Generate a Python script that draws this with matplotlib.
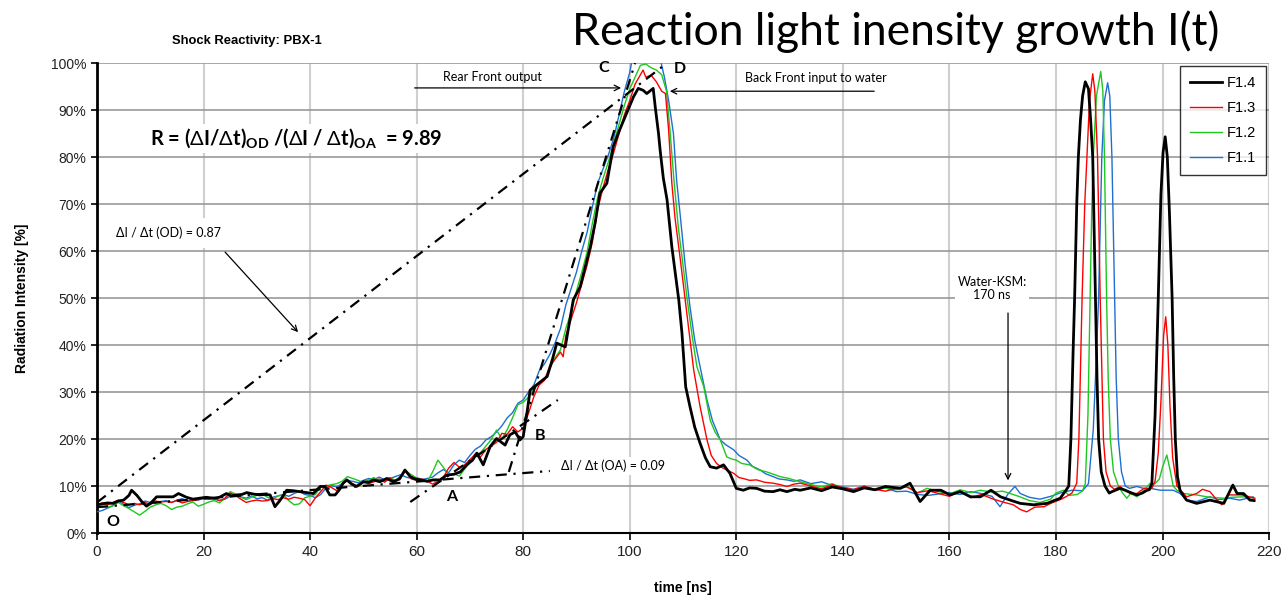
import numpy as np
import matplotlib
matplotlib.use('Agg')
import matplotlib.pyplot as plt

plt.rcParams['font.family'] = ['Liberation Sans', 'DejaVu Sans']
plt.rcParams['mathtext.fontset'] = 'custom'
plt.rcParams['mathtext.rm'] = 'Lato'
plt.rcParams['mathtext.bf'] = 'Lato:bold'

# ---- data: time [ns], intensity [%] ----
# F1.4 (black)
t_f14 = [0, 1, 2, 3, 4, 5, 6, 6.5, 7.5, 8.4, 9.3, 10.2, 11.2, 12.5, 14.3, 15.3, 16.8, 18, 19.3, 20.5,
         21.8, 23, 24.3, 25.2, 26.2, 27.2, 28.1, 29.3, 30.6, 31.5, 32.5, 33.4, 34.4, 35.6, 36.8, 38.1,
         39.3, 40.6, 41.9, 42.8, 43.7, 44.7, 45.5, 46.2, 46.9, 47.8, 48.7, 50, 51, 51.9, 53.1, 54.4,
         55.6, 56.8, 57.8, 58.8, 59.7, 60.6, 62, 63.1, 64.4, 65.6, 67, 68.2, 69.4, 70.5, 71.3, 72.5,
         73.8, 75, 76.6, 77.5, 78.5, 79.4, 80, 80.7, 81.3, 82.5, 84.5, 85.5, 86.3, 87.9, 89.4, 90.7,
         91.5, 92.6, 93.5, 94.4, 95.7, 96.9, 98, 99.4, 100.7, 101.6, 102.5, 103.2, 104.4, 104.8, 105.4,
         105.7, 106.3, 107, 107.9, 109.2, 109.8, 110.5, 111.3, 112.2, 113.2, 114.2, 115.1, 116.3, 117.6,
         118.8, 120, 121.3, 122.5, 123.8, 125.3, 126.9, 128.2, 129.5, 131, 132, 134, 136, 138, 140, 142,
         144, 146, 148, 150.8, 152.6, 154.5, 156.4, 158.4, 160.1, 162, 164, 165.8, 167.8, 169.6, 171.4,
         173.3, 175.8, 178.3]
y_f14 = [6.0, 6.2, 6.4, 6.3, 6.8, 7.0, 8.0, 9.1, 8.0, 6.7, 5.7, 6.5, 7.7, 7.7, 7.7, 8.4, 7.6, 7.2, 7.4, 7.6,
         7.4, 7.6, 8.4, 7.9, 8.1, 8.2, 8.6, 8.3, 8.1, 8.2, 8.1, 5.6, 7.0, 9.1, 9.0, 8.8,
         8.6, 8.4, 9.9, 9.9, 8.1, 8.1, 9.2, 10.6, 11.3, 10.4, 9.9, 10.9, 10.8, 11.3, 10.9, 11.6,
         10.9, 11.5, 13.4, 12.0, 11.5, 11.3, 11.0, 11.3, 11.3, 12.3, 12.5, 13.0, 14.5, 15.5, 17.0, 14.5,
         18.4, 20.1, 18.7, 20.9, 21.5, 19.8, 20.5, 25.5, 30.4, 31.5, 33.3, 37.0, 40.4, 39.6, 49.6, 52.4,
         56.0, 60.9, 66.0, 72.3, 74.4, 82.2, 85.5, 89.3, 92.8, 94.6, 94.2, 93.5, 94.6, 90.5, 85.0,
         81.5, 75.5, 70.9, 60.9, 49.6, 42.5, 31.1, 26.9, 22.5, 19.1, 16.0, 14.1, 13.8, 14.5,
         12.7, 9.5, 9.1, 9.6, 9.5, 8.9, 8.8, 9.2, 8.8, 9.3, 9.1, 9.6, 9.0, 9.8, 9.4, 8.8,
         9.6, 9.2, 9.9, 9.5, 10.6, 6.7, 9.1, 9.1, 8.1, 8.8, 7.7, 7.7, 9.1, 7.7, 7.0,
         6.3, 6.0, 6.3]
t_f14_late = [180.8, 181.5, 182, 182.4, 182.8, 183.2, 183.5, 183.9, 184.2, 184.6, 185, 185.5, 186.1,
              186.5, 186.9, 187.2, 187.4, 187.7, 188, 188.5, 189.2, 190, 190.5, 192, 193, 194, 195.2,
              196.2, 197.1, 197.5, 198, 198.6, 199.2, 199.7, 200.1, 200.5, 200.9, 201.3, 201.8, 202.1,
              202.4, 202.8, 203.3, 204.5, 206.4, 208.9, 211.5, 213.2, 214, 215.2, 216.4, 217.2]
y_f14_late = [7.4, 8.5, 9.3, 10.0, 20.0, 38.0, 50.0, 70.0, 80.0, 88.0, 93.0, 96.0, 94.5,
              88.0, 80.0, 62.0, 50.0, 33.0, 20.0, 13.0, 10.0, 8.5, 8.8, 9.5, 9.1, 8.6, 8.1,
              8.5, 9.1, 9.2, 10.5, 25.0, 50.0, 72.0, 81.0, 84.3, 80.0, 68.0, 50.0, 33.0,
              20.0, 12.0, 9.0, 7.0, 6.3, 7.0, 6.3, 10.2, 8.4, 8.4, 7.0, 6.9]

# F1.3 (red)
t_f13 = [0, 1, 2, 3, 4, 5, 6, 7, 8, 9, 10, 11, 12, 13, 14, 15, 16, 17, 18, 19, 20, 21, 22, 23, 24, 25,
         26, 27, 28, 29, 30, 31, 32, 33, 34, 35, 36, 37, 38, 39, 40, 41, 42, 43, 44, 45, 46, 47, 48, 49,
         50, 51, 52, 53, 54, 55, 56, 57, 58, 59, 60, 61, 62, 63, 64, 65, 66, 67, 68, 69, 70, 71, 72, 73,
         74, 75, 76, 77, 78, 79, 80, 81, 82, 83, 84, 85, 86, 87, 87.5, 88, 89, 90, 91, 92, 93, 94, 95, 96,
         97, 98, 99, 100, 101, 102, 102.5, 103, 104, 105, 106, 106.7, 107.3, 107.9, 108.5, 109.5, 110.8,
         112, 113.2, 114.5, 115.3, 116.3, 117.2, 118.2, 119.5, 120.5, 121.3, 122.5, 123.8, 125.3, 126.9,
         128.2, 129.5, 130.8, 132, 134, 136, 138, 140, 142, 144, 146, 148, 150, 152, 154, 156, 158, 160,
         162, 164, 166, 168, 170, 172, 173.3, 174.5, 176, 177.8, 179]
y_f13 = [6.0, 6.4, 6.0, 6.5, 7.0, 6.5, 6.0, 6.3, 6.0, 6.5, 6.0, 6.8, 6.6, 6.7, 6.5, 6.9, 6.4, 6.7, 6.9, 7.1,
         7.4, 7.2, 7.4, 6.9, 7.3, 8.5, 8.0, 7.2, 6.5, 6.8, 7.0, 6.8, 6.9, 7.3, 7.1, 7.5, 7.2, 7.6, 7.4, 7.1,
         5.8, 7.5, 8.8, 10.2, 9.7, 9.0, 10.3, 11.2, 10.5, 9.9, 10.8, 10.5, 10.9, 11.5, 10.8, 11.7, 10.9, 12.0,
         13.3, 11.5, 11.2, 11.5, 11.0, 10.4, 11.0, 11.8, 13.8, 15.0, 14.0, 14.5, 15.6, 16.8, 16.2, 17.8,
         18.5, 19.3, 21.2, 21.0, 22.6, 21.5, 22.3, 25.5, 29.0, 31.5, 32.5, 35.5, 37.0, 38.5, 37.5, 42.0,
         45.5, 49.0, 53.0, 57.0, 62.0, 69.0, 73.5, 77.5, 81.0, 85.0, 89.0, 92.0, 95.5, 97.5, 98.5, 97.0,
         97.4, 96.0, 94.0, 93.5, 85.7, 74.4, 67.0, 58.1, 46.0, 34.7, 26.9, 19.8, 16.5, 14.8, 14.0, 13.4,
         12.7, 11.8, 11.6, 11.2, 11.3, 10.8, 10.6, 10.3, 9.9, 10.4, 10.6, 10.0, 9.4, 10.3, 9.6, 9.2, 9.9,
         9.3, 8.9, 9.5, 9.8, 8.6, 9.0, 8.4, 7.8, 8.9, 7.5, 8.2, 7.3, 6.6, 6.0, 5.0, 4.5, 5.5, 5.6, 6.3]
t_f13_late = [181, 182, 183, 183.9, 184.3, 184.9, 185.4, 185.8, 186.3, 186.9, 187.3, 187.8, 188.3,
              188.9, 189.4, 190.2, 191, 192, 193, 194, 195.2, 196.5, 197.5, 198, 198.6, 199.2, 199.7,
              200.2, 200.6, 201, 201.4, 201.9, 202.7, 204.5, 206.4, 207.5, 208.9, 210, 211.1, 212.3,
              214.8, 216, 217.3]
y_f13_late = [7.2, 7.8, 8.5, 10.6, 20.0, 50.0, 70.0, 80.0, 92.0, 97.7, 94.0, 80.0, 50.0,
              20.0, 13.0, 10.0, 9.3, 9.9, 9.0, 8.4, 8.4, 9.5, 9.4, 9.5, 11.0, 17.0, 28.0,
              42.0, 46.0, 40.0, 27.0, 16.0, 10.0, 7.7, 8.4, 9.3, 8.8, 7.3, 6.0, 8.1,
              8.1, 7.8, 7.4]

# F1.2 (green)
t_f12 = [0, 1, 2, 3, 4, 5, 6, 7, 8, 9, 10, 11, 12, 13, 14, 15, 16, 17, 18, 19, 20, 21, 22, 23, 24, 25,
         26, 27, 28, 29, 30, 31, 32, 33, 34, 35, 36, 37, 38, 39, 40, 41, 42, 43, 44, 45, 46, 47, 48, 49,
         50, 51, 52, 53, 54, 55, 56, 57, 58, 59, 60, 61, 62, 63, 64, 65, 66, 67, 68, 69, 70, 71, 72, 73,
         74, 75, 76, 77, 78, 79, 80, 81, 82, 83, 84, 85, 86, 87, 88, 89, 90, 91, 92, 93, 94, 95, 96, 97,
         98, 99, 100, 101, 102, 103, 104, 105, 106, 106.9, 107.6, 108.3, 109.1, 110, 110.8, 111.7, 112.6,
         113.9, 115.1, 116, 117, 118.2, 119, 120, 121, 122.5, 124, 125.7, 127, 128.2, 129.5, 130.8, 132,
         134, 136, 138, 140, 142, 144, 146, 148, 150, 152, 154, 155.8, 158, 160, 162, 164, 165.8, 168,
         170, 171.4, 173, 175, 177, 179]
y_f12 = [5.8, 5.6, 5.5, 5.8, 6.5, 5.8, 5.2, 4.5, 3.8, 4.6, 5.5, 6.0, 6.3, 5.8, 5.0, 5.5, 5.7, 6.2, 6.6,
         5.7, 6.1, 6.6, 6.9, 6.4, 7.4, 8.8, 8.3, 7.6, 7.1, 7.6, 8.0, 8.3, 7.6, 7.2, 7.9, 8.1, 6.9, 6.0,
         6.2, 7.5, 7.8, 8.2, 9.8, 10.0, 10.3, 10.5, 11.0, 12.0, 11.6, 11.2, 10.7, 11.3, 11.8, 11.0, 11.5,
         11.8, 11.2, 12.1, 13.2, 12.4, 11.7, 11.2, 10.9, 13.0, 15.5, 14.0, 12.4, 12.6, 12.1, 13.6, 15.0,
         16.6, 17.1, 18.5, 19.9, 21.9, 20.0, 22.0, 24.5, 27.3, 27.8, 28.9, 30.5, 32.0, 32.6, 35.0, 37.3,
         39.0, 43.5, 47.0, 51.5, 55.5, 59.8, 66.0, 71.5, 75.5, 79.0, 83.0, 87.0, 91.0, 94.5, 97.0, 99.5,
         99.8, 99.0, 98.5, 97.5, 94.0, 85.0, 75.0, 65.2, 57.0, 49.6, 42.0, 35.4, 31.1, 24.0, 21.5, 19.8,
         16.2, 15.8, 15.5, 14.8, 14.5, 13.5, 13.0, 12.5, 12.0, 11.7, 11.3, 10.9, 10.3, 9.8, 10.5, 9.5,
         9.0, 9.7, 9.1, 9.6, 9.2, 9.9, 8.5, 9.5, 8.8, 8.3, 9.2, 8.6, 9.1, 8.7, 8.9, 8.4, 7.8, 6.9, 6.5,
         7.2]
t_f12_late = [180, 181.4, 182.5, 184, 185, 185.5, 186, 186.4, 186.7, 187, 187.6, 188.4, 188.8, 189.1,
              189.5, 189.8, 190.2, 190.8, 191.7, 192.5, 193.3, 194, 195.2, 196.5, 197.7, 198.6, 199.4,
              200, 200.8, 201.4, 202, 202.7, 204, 206.4, 208.3, 210, 211.5, 213, 215.2, 217.3]
y_f12_late = [8.5, 9.1, 8.0, 8.2, 9.0, 10.5, 25.0, 50.0, 68.0, 80.0, 93.0, 98.2, 94.0, 80.0,
              50.0, 33.0, 20.0, 13.0, 10.0, 8.5, 7.4, 8.4, 7.7, 9.1, 10.6, 10.5, 11.5,
              14.0, 16.6, 13.5, 10.0, 9.1, 8.4, 8.1, 7.7, 7.5, 7.4, 7.6, 7.7, 7.4]

# F1.1 (blue) - top of first peak runs off the 100% line
t_f11 = [0, 1, 2, 3, 4, 5, 6, 7, 8, 9, 10, 11, 12, 13, 14, 15, 16, 17, 18, 19, 20, 21, 22, 23, 24, 25,
         26, 27, 28, 29, 30, 31, 32, 33, 34, 35, 36, 37, 38, 39, 40, 41, 42, 43, 44, 45, 46, 47, 48, 49,
         50, 51, 52, 53, 54, 55, 56, 57, 58, 59, 60, 61, 62, 63, 64, 65, 66, 67, 68, 69, 70, 71, 72, 73,
         74, 75, 76, 77, 78, 79, 80, 81, 82, 83, 84, 85, 86, 87, 88, 89, 90, 91, 92, 93, 94, 95, 96, 97,
         98, 99, 100, 100.5, 101.5, 103, 104.5, 105.7, 106.5, 107.3, 108.2, 108.8, 109.5, 110.4, 111.3,
         112.2, 113.2, 114.5, 115.5, 117, 118, 119.5, 120.5, 122, 123, 124.5, 125.5, 126.9, 128, 129.5,
         130.8, 132, 134, 136, 138, 140, 142, 144, 146, 148, 150, 152, 154, 156, 158, 160, 162, 164, 166,
         168, 169.5, 171, 172.3, 173.3, 175, 177]
y_f11 = [4.5, 4.8, 5.3, 5.8, 6.9, 6.1, 5.4, 5.9, 6.2, 6.8, 6.5, 6.3, 6.7, 6.9, 6.5, 7.0, 7.3, 6.8, 7.1,
         7.0, 7.4, 7.6, 7.2, 6.9, 7.2, 7.8, 8.0, 7.7, 7.4, 7.9, 7.3, 7.5, 7.0, 7.6, 7.9, 8.2, 7.8, 8.4,
         8.9, 8.2, 8.0, 7.5, 8.2, 9.6, 10.1, 9.8, 10.5, 11.2, 11.0, 10.7, 11.2, 11.6, 11.4, 11.9, 11.3,
         11.6, 12.0, 12.4, 11.9, 11.6, 11.8, 11.4, 11.6, 11.9, 12.8, 13.5, 12.8, 14.5, 15.5, 15.0, 16.5,
         17.8, 18.5, 19.8, 20.5, 21.5, 22.8, 24.5, 25.6, 27.6, 28.3, 30.0, 31.5, 34.5, 36.0, 38.0, 40.5,
         43.5, 48.5, 52.0, 55.5, 60.0, 64.0, 69.5, 74.5, 77.5, 80.5, 84.0, 89.0, 94.0, 98.0, 101.0, 103.0,
         104.0, 103.0, 101.0, 97.0, 92.0, 85.0, 75.0, 67.3, 57.0, 48.2, 41.0, 35.4, 28.3, 24.0, 19.8,
         18.8, 17.7, 16.5, 15.5, 14.2, 13.4, 12.6, 12.0, 11.5, 11.3, 11.0, 11.3, 10.5, 10.9, 10.1, 9.8,
         9.3, 10.0, 9.2, 9.6, 8.8, 8.9, 8.2, 8.0, 8.3, 8.6, 8.2, 8.8, 8.4, 7.8, 5.6, 8.3, 9.9, 8.4, 7.6,
         7.2]
t_f11_late = [179, 181, 183, 185, 186.1, 187, 187.6, 188, 188.3, 188.6, 189.1, 189.7, 190.1, 190.5,
              191, 191.3, 191.7, 192.3, 193, 193.8, 195.2, 196.4, 197.7, 199.6, 202, 203.3, 204.5,
              206.4, 208.9, 210.5, 212.6, 214.5, 217]
y_f11_late = [7.8, 8.6, 9.1, 9.0, 10.5, 22.0, 38.0, 50.0, 65.0, 80.0, 92.0, 95.8, 93.0, 80.0,
              50.0, 33.0, 20.0, 13.0, 10.0, 9.5, 9.9, 9.5, 9.5, 9.1, 9.1, 8.4, 7.0,
              6.7, 7.7, 7.1, 7.4, 7.0, 7.7]

# fitted slope lines (end points)
od_t = [0, 107]
od_y = [6.5, 100]
oa_t = [0, 85]
oa_y = [5.5, 13.2]
ab_t = [58.8, 86.5]
ab_y = [6.6, 28.3]
bc_t = [77.3, 101]
bc_y = [13.0, 100]

fig = plt.figure(figsize=(12.81, 5.95), dpi=100)
ax = fig.add_axes([0.0757, 0.1042, 0.9150, 0.7899])

ax.plot(t_f11 + t_f11_late, y_f11 + y_f11_late, color='#1f6fd0', lw=1.0, label='F1.1', zorder=3)
ax.plot(t_f12 + t_f12_late, y_f12 + y_f12_late, color='#1ec81e', lw=1.0, label='F1.2', zorder=3)
ax.plot(t_f13 + t_f13_late, y_f13 + y_f13_late, color='#ff0000', lw=1.0, label='F1.3', zorder=4)
ax.plot(t_f14 + t_f14_late, y_f14 + y_f14_late, color='black', lw=2.0, label='F1.4', zorder=5)

dashdot = (0, (5, 3, 1, 3))
for tt, yy in [(od_t, od_y), (oa_t, oa_y), (ab_t, ab_y), (bc_t, bc_y)]:
    ax.plot(tt, yy, color='black', lw=1.6, linestyle=dashdot, zorder=6)

ax.set_xlim(0, 220)
ax.set_ylim(0, 100)
ax.set_xticks(np.arange(0, 221, 20))
ax.set_yticks(np.arange(0, 101, 10))
ax.set_yticklabels(['%d%%' % v for v in range(0, 101, 10)])
ax.tick_params(axis='x', labelsize=11, direction='out', length=5, width=1.2, colors='black')
ax.tick_params(axis='y', labelsize=10, direction='out', length=4, width=1.2, colors='black')
for lab in ax.get_yticklabels() + ax.get_xticklabels():
    lab.set_color('#222222')

ax.xaxis.grid(True, color='#cfcfcf', lw=1.5)
ax.yaxis.grid(True, color='#999999', lw=1.2)
ax.set_axisbelow(True)
ax.spines['top'].set_visible(False)
ax.spines['right'].set_visible(False)
ax.spines['left'].set_linewidth(2.0)
ax.spines['bottom'].set_linewidth(1.5)

ax.set_xlabel('time [ns]', fontsize=10, fontweight='bold', labelpad=16)
ax.set_ylabel('Radiation Intensity [%]', fontsize=10, fontweight='bold', labelpad=16)

# legend order as in the chart
h, l = ax.get_legend_handles_labels()
leg = ax.legend(h[::-1], l[::-1], loc='upper right', fontsize=10.5, frameon=True, fancybox=False,
                edgecolor='black', borderaxespad=0.2, handlelength=2.2, labelspacing=0.75,
                handletextpad=0.3, borderpad=0.7)
leg.get_frame().set_linewidth(1.0)
leg.set_zorder(10)

fig.text(0.193, 0.931, 'Shock Reactivity: PBX-1', fontsize=9.4, fontweight='bold', ha='center', va='center')
fig.text(0.699, 0.925, 'Reaction light inensity growth I(t)', fontsize=32, ha='center', va='baseline',
         family=['Lato', 'Open Sans', 'DejaVu Sans'])

anno = ['Lato', 'Open Sans', 'DejaVu Sans']
box = dict(facecolor='white', edgecolor='none', pad=2)

ax.text(37.5, 84, r'R = ($\Delta$I/$\Delta$t)$_{\mathbf{OD}}$ /($\Delta$I / $\Delta$t)$_{\mathbf{OA}}$  = 9.89',
        fontsize=14.5, fontweight='bold', ha='center', va='center', family=anno, bbox=box, zorder=7)
ax.text(13.5, 63.8, 'ΔI / Δt (OD) = 0.87', fontsize=9, ha='center', va='center', family=anno,
        bbox=dict(facecolor='white', edgecolor='none', pad=6), zorder=7)
ax.annotate('', xy=(38.1, 42.3), xytext=(23.7, 60.2),
            arrowprops=dict(arrowstyle='->', color='black', lw=0.9), zorder=7)
ax.text(96.9, 14.3, 'ΔI / Δt (OA) = 0.09', fontsize=9, ha='center', va='center', family=anno,
        bbox=box, zorder=7)

ax.text(74.2, 97.0, 'Rear Front output', fontsize=9, ha='center', va='center', family=anno)
ax.annotate('', xy=(98.9, 94.7), xytext=(59.1, 94.7),
            arrowprops=dict(arrowstyle='->', color='black', lw=0.9), zorder=7)
ax.text(135, 96.8, 'Back Front input to water', fontsize=9, ha='center', va='center', family=anno)
ax.annotate('', xy=(107, 94.0), xytext=(146.4, 94.0),
            arrowprops=dict(arrowstyle='->', color='black', lw=0.9), zorder=7)

ax.text(168, 52, 'Water-KSM:\n170 ns', fontsize=9, ha='center', va='center', family=anno,
        linespacing=1.1, bbox=box, zorder=7)
ax.annotate('', xy=(171, 10.6), xytext=(171, 47.4),
            arrowprops=dict(arrowstyle='->', color='black', lw=0.9), zorder=7)

for lbl, tx, ty in [('O', 3.0, 2.3), ('A', 66.6, 7.7), ('B', 83.2, 20.6), ('C', 95.2, 98.9), ('D', 109.4, 98.7)]:
    ax.text(tx, ty, lbl, fontsize=11.5, fontweight='bold', ha='center', va='center', family=anno, zorder=8)

plt.savefig('out.png', dpi=100)
